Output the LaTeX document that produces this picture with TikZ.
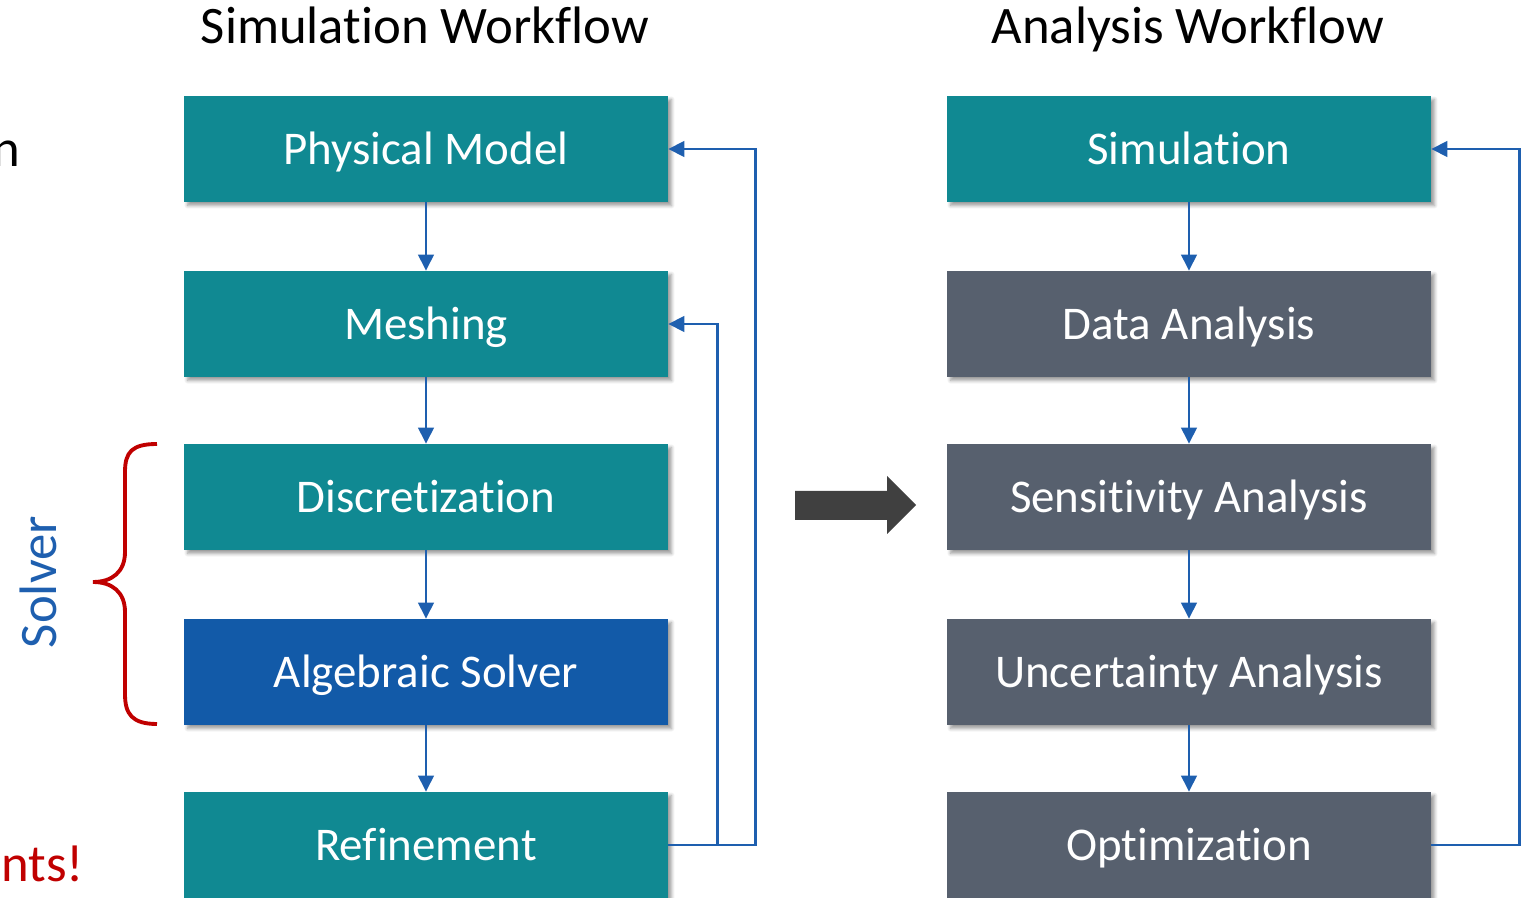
\documentclass[tikz,border=0pt]{standalone}
\usepackage{fontspec}
\setmainfont{Carlito}[Ligatures=NoCommon]
\definecolor{boxteal}{RGB}{16,137,146}
\definecolor{boxgray}{RGB}{87,96,110}
\definecolor{boxblue}{RGB}{18,90,168}
\definecolor{lineblue}{RGB}{30,95,175}
\definecolor{bracered}{RGB}{192,0,0}
\definecolor{arrowdark}{RGB}{64,64,64}
\usetikzlibrary{arrows.meta,positioning,shadows.blur}

\tikzset{
  stage/.style={minimum width=9.68cm, minimum height=2.12cm, inner sep=0pt,
    text=white, font=\fontsize{26.7}{30}\selectfont, text height=17.2pt, text depth=0pt,
    blur shadow={shadow xshift=2pt, shadow yshift=-2pt, shadow blur steps=6, shadow opacity=40}},
  flow/.style={draw=lineblue, line width=1.5pt, -{Triangle[length=0.32cm,width=0.31cm]}},
  heading/.style={font=\fontsize{30}{34}\selectfont, text height=19.3pt, text depth=0pt}
}

\begin{document}
\begin{tikzpicture}[x=0.02cm,y=-0.02cm]
  \useasboundingbox (0,0) rectangle (1526,898);
  \clip (0,0) rectangle (1526,898);

  % headings
  \node[heading] (simtitle) at (425,27) {Simulation Workflow};
  \node[heading] (antitle) at (1188,27) {Analysis Workflow};

  % simulation workflow
  \node[stage, fill=boxteal] (phys) at (426,149) {Physical Model};
  \node[stage, fill=boxteal] (mesh) at (426,324) {Meshing};
  \node[stage, fill=boxteal] (disc) at (426,497) {Discretization};
  \node[stage, fill=boxblue] (alg) at (426,672) {Algebraic Solver};
  \node[stage, fill=boxteal] (refine) at (426,845) {Refinement};

  \draw[flow] (phys) -- (mesh);
  \draw[flow] (mesh) -- (disc);
  \draw[flow] (disc) -- (alg);
  \draw[flow] (alg) -- (refine);
  \draw[flow] (refine.east) -- ++(87,0) |- (phys.east);
  \draw[flow] (refine.east) -- ++(49,0) |- (mesh.east);

  % analysis workflow
  \node[stage, fill=boxteal] (sim) at (1189,149) {Simulation};
  \node[stage, fill=boxgray] (data) at (1189,324) {Data Analysis};
  \node[stage, fill=boxgray] (sens) at (1189,497) {Sensitivity Analysis};
  \node[stage, fill=boxgray] (unc) at (1189,672) {Uncertainty Analysis};
  \node[stage, fill=boxgray] (opt) at (1189,845) {Optimization};

  \draw[flow] (sim) -- (data);
  \draw[flow] (data) -- (sens);
  \draw[flow] (sens) -- (unc);
  \draw[flow] (unc) -- (opt);
  \draw[flow] (opt.east) -- ++(88,0) |- (sim.east);

  % big arrow between the workflows
  \fill[arrowdark] (795,491) -- (887,491) -- (887,476) -- (916,505)
    -- (887,534) -- (887,520) -- (795,520) -- cycle;

  % solver brace
  \draw[bracered, line width=2.2pt] (157,444) .. controls (132,444) and (125,452) .. (125,472)
    -- (125,552) .. controls (125,572) and (112,582) .. (93,582)
    .. controls (112,582) and (125,592) .. (125,612)
    -- (125,694) .. controls (125,714) and (132,724) .. (157,724);
  \node[font=\fontsize{30}{34}\selectfont, text=lineblue, rotate=90] (solver) at (38,582) {Solver};

  % text cut off at the left edge
  \node[heading, anchor=east] (cuttop) at (26,150) {n};
  \node[heading, text=bracered, anchor=east] (cutbottom) at (90,865) {nts!};
\end{tikzpicture}
\end{document}
